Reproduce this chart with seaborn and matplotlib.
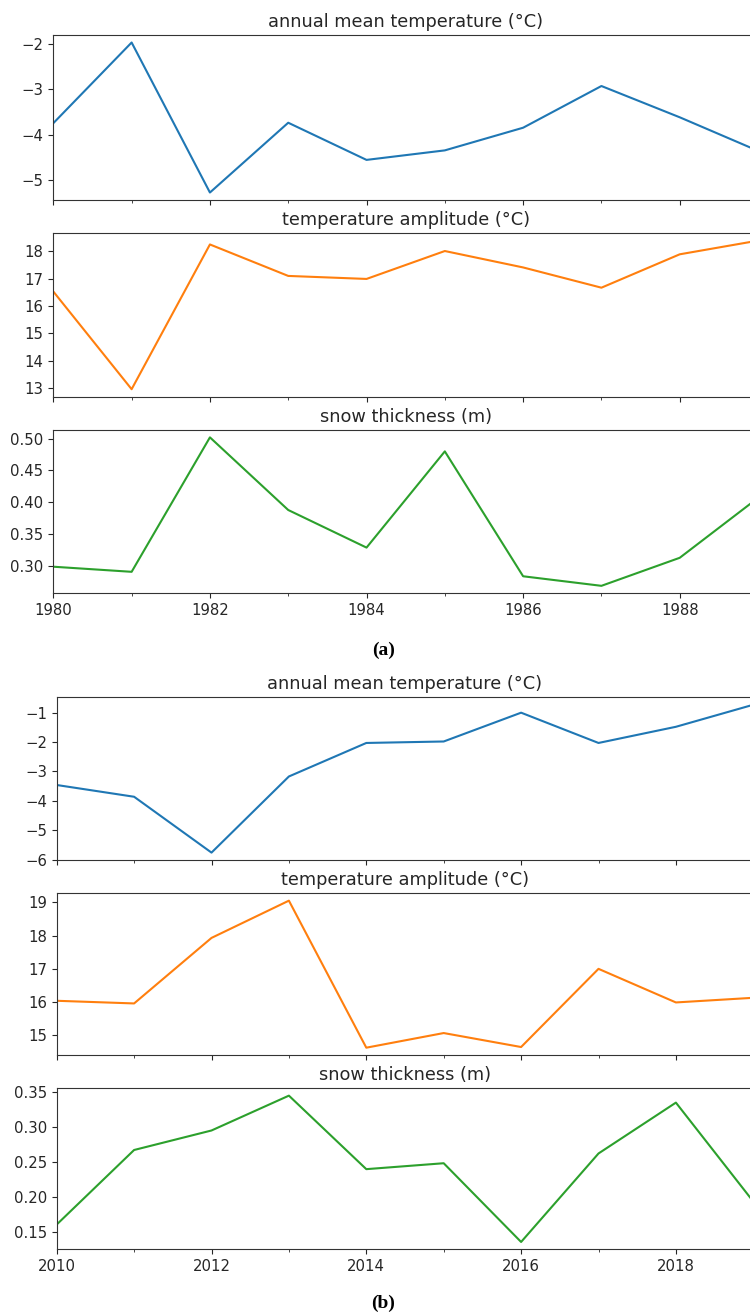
"""Annual climate indicators for two decades, stacked as (a) and (b)."""

import matplotlib
matplotlib.use("Agg")
import matplotlib.pyplot as plt
from matplotlib.ticker import MultipleLocator
import seaborn as sns

# Data
years_a = [1980, 1981, 1982, 1983, 1984, 1985, 1986, 1987, 1988, 1989]
mean_temp_a = [-3.75, -1.97, -5.28, -3.74, -4.56, -4.35, -3.85, -2.93, -3.62, -4.36]
amplitude_a = [16.53, 12.96, 18.25, 17.10, 16.99, 18.01, 17.41, 16.67, 17.89, 18.39]
snow_a = [0.299, 0.291, 0.502, 0.388, 0.329, 0.480, 0.284, 0.269, 0.313, 0.407]

years_b = [2010, 2011, 2012, 2013, 2014, 2015, 2016, 2017, 2018, 2019]
mean_temp_b = [-3.46, -3.86, -5.76, -3.17, -2.03, -1.98, -1.00, -2.03, -1.48, -0.73]
amplitude_b = [16.04, 15.96, 17.93, 19.05, 14.63, 15.07, 14.65, 17.00, 15.99, 16.13]
snow_b = [0.160, 0.267, 0.295, 0.345, 0.2395, 0.248, 0.135, 0.262, 0.335, 0.193]

titles = ["annual mean temperature (°C)", "temperature amplitude (°C)", "snow thickness (m)"]
colors = ["#1f77b4", "#ff7f0e", "#2ca02c"]
y_steps = [1, 1, 0.05]


def draw_group(fig, years, series, left, width, bottoms, heights):
    axes = []
    for i, (vals, title, color) in enumerate(zip(series, titles, colors)):
        ax = fig.add_axes([left, bottoms[i], width, heights[i]])
        sns.lineplot(x=years, y=vals, ax=ax, color=color, linewidth=1.5)
        ax.set_title(title, fontsize=12.8)
        ax.set_xlim(years[0], years[-1])
        ax.xaxis.set_major_locator(MultipleLocator(2))
        ax.xaxis.set_minor_locator(MultipleLocator(1))
        ax.yaxis.set_major_locator(MultipleLocator(y_steps[i]))
        ax.tick_params(axis="both", labelsize=10.7, direction="out")
        ax.tick_params(which="major", length=3.5)
        ax.tick_params(which="minor", length=2)
        if i < 2:
            ax.tick_params(axis="x", labelbottom=False)
        else:
            ax.xaxis.set_major_formatter(plt.FuncFormatter(lambda v, p: f"{int(v)}"))
        ax.set_xlabel("")
        ax.set_ylabel("")
        axes.append(ax)
    return axes


def main() -> None:
    sns.set_style("ticks")
    plt.rcParams["font.family"] = ["DejaVu Sans"]
    plt.rcParams["axes.edgecolor"] = "#333333"

    fig = plt.figure(figsize=(7.5, 13.16), dpi=100)

    draw_group(fig, years_a, [mean_temp_a, amplitude_a, snow_a],
               left=0.0711, width=0.9396,
               bottoms=[0.848, 0.6986, 0.5492],
               heights=[0.1254, 0.1242, 0.1241])
    draw_group(fig, years_b, [mean_temp_b, amplitude_b, snow_b],
               left=0.0756, width=0.9288,
               bottoms=[0.3465, 0.1983, 0.0507],
               heights=[0.1236, 0.1229, 0.1223])

    fig.text(0.511, 0.506, "(a)", ha="center", va="center", fontsize=14,
             fontweight="bold", family=["Liberation Serif", "DejaVu Serif"], color="black")
    fig.text(0.511, 0.0099, "(b)", ha="center", va="center", fontsize=14,
             fontweight="bold", family=["Liberation Serif", "DejaVu Serif"], color="black")

    fig.savefig("out.png", dpi=100)
    plt.close(fig)


if __name__ == "__main__":
    main()
